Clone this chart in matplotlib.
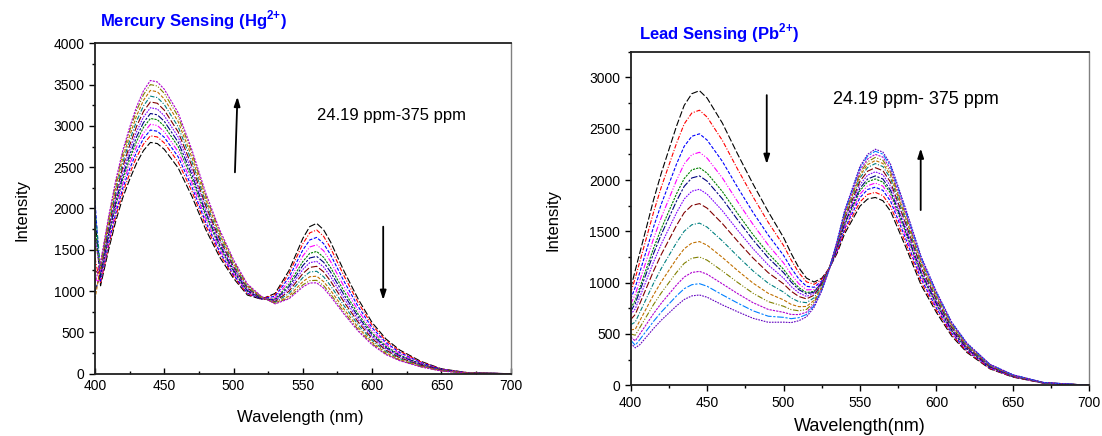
import matplotlib
matplotlib.use("Agg")
import matplotlib.pyplot as plt
from matplotlib.ticker import MultipleLocator

plt.rcParams["font.family"] = ["Liberation Sans", "DejaVu Sans"]
# math text only used for the bold superscripts in the panel titles
plt.rcParams["mathtext.fontset"] = "custom"
plt.rcParams["mathtext.rm"] = "Liberation Sans:bold"
plt.rcParams["mathtext.bf"] = "Liberation Sans:bold"

# --- Mercury (Hg2+) titration spectra ---
wl_hg = [400, 402, 404, 407, 410, 415, 420, 425, 430, 435, 440, 445, 450, 460,
         470, 480, 490, 500, 510, 520, 530, 540, 550, 555, 560, 565, 570, 580,
         590, 600, 610, 620, 635, 650, 670, 700]
hg_spectra = [
    [1950, 1480, 1064, 1288, 1512, 1848, 2128, 2352, 2548, 2702, 2800, 2786, 2716, 2492, 2145, 1742, 1411, 1154, 952, 902, 972, 1249, 1638, 1781, 1820, 1742, 1596, 1232, 902, 619, 420, 286, 151, 59, 10, 0],
    [1400, 1230, 1094, 1325, 1555, 1901, 2189, 2419, 2621, 2779, 2880, 2866, 2794, 2563, 2205, 1789, 1446, 1178, 966, 905, 957, 1211, 1573, 1705, 1740, 1663, 1522, 1175, 859, 589, 399, 271, 144, 56, 10, 0],
    [2100, 1610, 1121, 1357, 1593, 1947, 2242, 2478, 2685, 2847, 2950, 2935, 2862, 2626, 2257, 1830, 1476, 1197, 976, 904, 938, 1166, 1498, 1619, 1650, 1575, 1441, 1110, 811, 556, 376, 255, 135, 53, 9, 0],
    [1150, 1120, 1148, 1389, 1631, 1993, 2295, 2537, 2748, 2914, 3020, 3005, 2929, 2688, 2309, 1870, 1506, 1216, 987, 904, 919, 1121, 1425, 1534, 1560, 1488, 1359, 1046, 763, 522, 352, 240, 127, 49, 8, 0],
    [1800, 1487, 1174, 1421, 1669, 2039, 2348, 2596, 2812, 2982, 3090, 3075, 2997, 2750, 2361, 1912, 1536, 1236, 998, 905, 903, 1082, 1358, 1457, 1480, 1409, 1286, 990, 720, 492, 331, 225, 119, 46, 8, 0],
    [1000, 1100, 1197, 1449, 1701, 2079, 2394, 2646, 2867, 3040, 3150, 3134, 3056, 2804, 2407, 1947, 1562, 1254, 1008, 908, 892, 1054, 1309, 1401, 1420, 1350, 1231, 946, 688, 470, 316, 215, 114, 44, 8, 0],
    [1650, 1437, 1224, 1481, 1739, 2125, 2447, 2705, 2930, 3107, 3220, 3204, 3123, 2866, 2459, 1988, 1594, 1275, 1022, 912, 883, 1025, 1261, 1344, 1360, 1292, 1176, 903, 655, 448, 300, 204, 108, 42, 7, 0],
    [1250, 1220, 1250, 1513, 1777, 2171, 2500, 2764, 2994, 3175, 3290, 3274, 3191, 2928, 2511, 2030, 1624, 1296, 1035, 917, 873, 998, 1212, 1287, 1300, 1233, 1121, 861, 623, 425, 284, 193, 102, 40, 7, 0],
    [2000, 1638, 1277, 1546, 1814, 2218, 2554, 2822, 3058, 3242, 3360, 3343, 3259, 2990, 2565, 2071, 1656, 1318, 1048, 921, 864, 970, 1163, 1231, 1240, 1174, 1066, 817, 591, 403, 268, 182, 96, 38, 6, 0],
    [900, 1100, 1303, 1578, 1852, 2264, 2607, 2881, 3121, 3310, 3430, 3413, 3327, 3053, 2617, 2112, 1686, 1340, 1061, 926, 855, 941, 1114, 1174, 1180, 1115, 1010, 775, 558, 380, 252, 171, 91, 35, 6, 0],
    [1550, 1440, 1330, 1610, 1890, 2310, 2660, 2940, 3185, 3378, 3500, 3483, 3395, 3115, 2670, 2154, 1718, 1362, 1076, 932, 849, 920, 1075, 1127, 1130, 1066, 965, 739, 532, 362, 239, 162, 86, 33, 6, 0],
    [1100, 1220, 1349, 1633, 1917, 2343, 2698, 2982, 3231, 3426, 3550, 3532, 3444, 3160, 2707, 2184, 1741, 1379, 1086, 938, 845, 907, 1050, 1098, 1100, 1036, 937, 716, 515, 350, 231, 157, 83, 32, 6, 0],
]

# --- Lead (Pb2+) titration spectra ---
wl_pb = [400, 403, 406, 410, 415, 420, 425, 430, 435, 440, 445, 450, 460, 470,
         480, 490, 500, 505, 510, 515, 520, 525, 530, 535, 540, 550, 555, 560,
         565, 570, 580, 590, 600, 610, 620, 635, 650, 670, 700]
pb_spectra = [
    [944, 1120, 1292, 1521, 1808, 2066, 2296, 2526, 2727, 2841, 2870, 2798, 2554, 2251, 1962, 1691, 1440, 1284, 1145, 1044, 1006, 1043, 1142, 1286, 1478, 1746, 1815, 1830, 1798, 1696, 1344, 975, 709, 479, 319, 160, 80, 21, 0],
    [900, 1045, 1206, 1420, 1688, 1930, 2144, 2358, 2546, 2653, 2680, 2613, 2385, 2104, 1837, 1587, 1362, 1220, 1096, 1008, 984, 1032, 1144, 1300, 1503, 1787, 1860, 1880, 1848, 1743, 1383, 1004, 730, 493, 329, 164, 82, 22, 0],
    [840, 955, 1103, 1299, 1544, 1764, 1960, 2156, 2328, 2426, 2450, 2389, 2181, 1927, 1685, 1463, 1266, 1142, 1036, 964, 955, 1017, 1140, 1312, 1526, 1829, 1908, 1930, 1899, 1793, 1423, 1035, 752, 508, 339, 169, 85, 23, 0],
    [790, 885, 1022, 1203, 1430, 1634, 1816, 1998, 2157, 2247, 2270, 2213, 2020, 1788, 1568, 1366, 1192, 1081, 989, 930, 932, 1005, 1138, 1321, 1545, 1862, 1945, 1970, 1940, 1833, 1455, 1059, 770, 520, 347, 173, 87, 23, 0],
    [750, 827, 954, 1124, 1336, 1526, 1696, 1866, 2014, 2099, 2120, 2067, 1887, 1673, 1469, 1285, 1130, 1030, 951, 903, 915, 997, 1140, 1332, 1565, 1896, 1983, 2010, 1980, 1871, 1487, 1082, 787, 531, 354, 177, 89, 24, 0],
    [720, 796, 918, 1081, 1285, 1469, 1632, 1795, 1938, 2020, 2040, 1989, 1816, 1611, 1417, 1242, 1098, 1005, 932, 890, 908, 996, 1145, 1343, 1582, 1921, 2010, 2040, 2010, 1899, 1509, 1099, 800, 540, 360, 180, 90, 24, 0],
    [690, 745, 860, 1012, 1203, 1375, 1528, 1681, 1815, 1891, 1910, 1862, 1700, 1511, 1331, 1172, 1044, 962, 900, 866, 894, 991, 1148, 1356, 1604, 1955, 2048, 2080, 2051, 1938, 1542, 1123, 817, 551, 368, 184, 92, 25, 0],
    [640, 690, 797, 938, 1115, 1274, 1416, 1558, 1682, 1752, 1770, 1726, 1575, 1403, 1240, 1097, 988, 916, 865, 842, 878, 985, 1150, 1368, 1625, 1989, 2086, 2120, 2091, 1978, 1573, 1147, 834, 563, 375, 188, 94, 25, 0],
    [590, 616, 711, 837, 995, 1138, 1264, 1390, 1501, 1564, 1580, 1541, 1406, 1257, 1115, 994, 908, 851, 814, 805, 853, 971, 1148, 1376, 1643, 2021, 2122, 2160, 2131, 2016, 1604, 1170, 851, 575, 383, 192, 96, 26, 0],
    [540, 546, 630, 742, 882, 1008, 1120, 1232, 1330, 1386, 1400, 1365, 1246, 1117, 996, 896, 832, 788, 766, 768, 828, 956, 1141, 1380, 1655, 2045, 2150, 2190, 2161, 2046, 1629, 1189, 865, 584, 389, 195, 97, 26, 0],
    [500, 488, 563, 663, 788, 900, 1000, 1100, 1188, 1238, 1250, 1219, 1113, 1002, 897, 815, 770, 737, 726, 739, 809, 945, 1138, 1386, 1668, 2069, 2178, 2220, 2192, 2076, 1652, 1207, 878, 593, 395, 198, 99, 26, 0],
    [470, 433, 500, 588, 699, 799, 888, 977, 1055, 1099, 1110, 1082, 988, 893, 805, 739, 711, 690, 689, 712, 790, 936, 1136, 1392, 1682, 2094, 2205, 2250, 2223, 2105, 1677, 1225, 891, 602, 401, 201, 100, 27, 0],
    [440, 390, 446, 525, 624, 713, 792, 871, 941, 980, 990, 965, 881, 801, 726, 673, 662, 649, 659, 690, 776, 929, 1136, 1400, 1696, 2119, 2234, 2280, 2252, 2134, 1700, 1243, 904, 610, 407, 203, 102, 27, 0],
    [409, 365, 396, 466, 554, 634, 704, 774, 836, 871, 880, 858, 783, 716, 653, 614, 615, 611, 629, 667, 760, 919, 1133, 1403, 1705, 2134, 2251, 2300, 2272, 2154, 1716, 1255, 913, 616, 411, 205, 103, 27, 0],
]

# Origin-like colour / dash cycle
COLORS = ["#000000", "#ff0000", "#0000ff", "#ff00ff", "#008000", "#000080",
          "#8000ff", "#800000", "#008080", "#c07000", "#808000", "#b000d0",
          "#0080ff", "#6000c0"]
DASHES = [(0, (6, 2)), (0, (4, 1.5, 1, 1.5)), (0, (3, 1.5)), (0, (5, 1.5, 1, 1.5, 1, 1.5)),
          (0, (2, 1)), (0, (6, 1.5, 2, 1.5)), (0, (1.5, 1))]


def draw_panel(ax, wl, spectra, ymax, xtick_dir):
    for i, y in enumerate(spectra):
        ax.plot(wl, y, color=COLORS[i % len(COLORS)],
                linestyle=DASHES[i % len(DASHES)], lw=0.8)
    ax.set_xlim(400, 700)
    ax.set_ylim(0, ymax)
    ax.xaxis.set_major_locator(MultipleLocator(50))
    ax.xaxis.set_minor_locator(MultipleLocator(25))
    ax.yaxis.set_major_locator(MultipleLocator(500))
    ax.yaxis.set_minor_locator(MultipleLocator(250))
    ax.tick_params(axis="y", which="major", direction="out", length=4, width=1, labelsize=10)
    ax.tick_params(axis="y", which="minor", direction="out", length=2.2, width=1)
    ax.tick_params(axis="x", which="major", direction=xtick_dir, length=4, width=1, labelsize=10)
    ax.tick_params(axis="x", which="minor", direction=xtick_dir, length=2.2, width=1)
    for side in ("left", "bottom", "top"):
        ax.spines[side].set_linewidth(1.3)
        ax.spines[side].set_color("#202020")
    ax.spines["right"].set_linewidth(1.0)
    ax.spines["right"].set_color("#808080")


def arrow(ax, tail, head):
    ax.annotate("", xy=head, xytext=tail,
                arrowprops=dict(arrowstyle="-|>,head_length=0.55,head_width=0.18",
                                color="black", lw=1.3, shrinkA=0, shrinkB=0))


fig = plt.figure(figsize=(11.02, 4.36), dpi=100)

ax1 = fig.add_axes([0.0862, 0.1429, 0.3772, 0.7578])
draw_panel(ax1, wl_hg, hg_spectra, 4000, "in")
ax1.text(560, 3124, "24.19 ppm-375 ppm", fontsize=12, va="center", ha="left")
arrow(ax1, (501, 2438), (502.8, 3353))
arrow(ax1, (608, 1780), (608, 892))

ax2 = fig.add_axes([0.5723, 0.1163, 0.4162, 0.7651])
draw_panel(ax2, wl_pb, pb_spectra, 3250, "out")
ax2.text(532.4, 2788, "24.19 ppm- 375 ppm", fontsize=13, va="center", ha="left")
arrow(ax2, (489, 2827), (489, 2155))
arrow(ax2, (589.7, 1707), (589.7, 2308))

fig.text(0.0905, 0.954, r"Mercury Sensing (Hg$^{2\text{+}}$)", color="#0000ff",
         fontsize=12, fontweight="bold", va="center", ha="left")
fig.text(0.580, 0.924, r"Lead Sensing (Pb$^{2\text{+}}$)", color="#0000ff",
         fontsize=12, fontweight="bold", va="center", ha="left")

fig.text(22 / 1102, 1 - 210 / 436, "Intensity", rotation=90, fontsize=12,
         va="center", ha="center")
fig.text(553 / 1102, 1 - 220 / 436, "Intensity", rotation=90, fontsize=12,
         va="center", ha="center")
fig.text(300 / 1102, 1 - 421.7 / 436, "Wavelength (nm)", fontsize=12,
         va="baseline", ha="center")
fig.text(860 / 1102, 0.003, "Wavelength(nm)", fontsize=13,
         va="bottom", ha="center")

fig.savefig("out.png", dpi=100)
